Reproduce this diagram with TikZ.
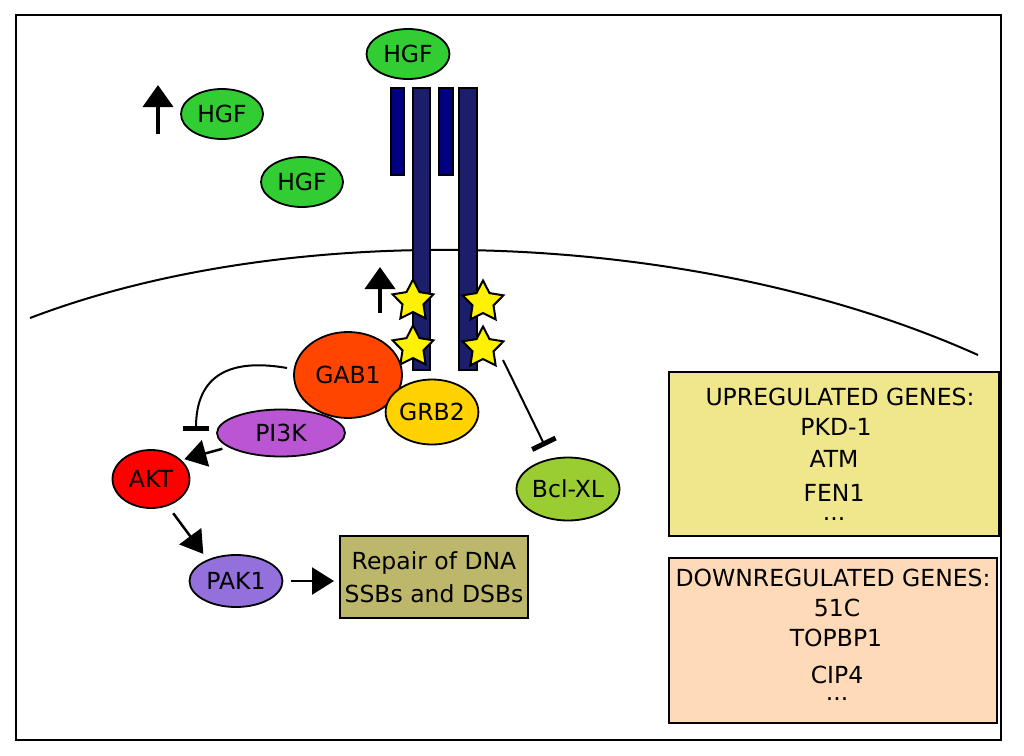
\documentclass[tikz,border=0pt]{standalone}
\usepackage{fontspec}
\setmainfont{DejaVu Sans}
\usetikzlibrary{shapes.geometric,arrows.meta}
\definecolor{hgfgreen}{HTML}{32CD32}
\definecolor{gabcol}{HTML}{FF4500}
\definecolor{grbcol}{HTML}{FFD200}
\definecolor{picol}{HTML}{BA55D3}
\definecolor{aktcol}{HTML}{FF0000}
\definecolor{pakcol}{HTML}{9370DB}
\definecolor{bclcol}{HTML}{9ACD32}
\definecolor{repcol}{HTML}{BDB76B}
\definecolor{upcol}{HTML}{F0E68C}
\definecolor{downcol}{HTML}{FFDAB9}
\definecolor{shortbar}{HTML}{000080}
\definecolor{tallbar}{HTML}{1B1F6B}
\tikzset{
  prot/.style={ellipse, draw=black, line width=1.8pt, inner sep=0pt, font=\fontsize{23.5}{28}\selectfont},
  pstar/.style={star, star points=5, star point ratio=1.95, minimum size=43pt, inner sep=0pt, draw=black, line width=2pt, fill=yellow},
  genebox/.style={draw=black, line width=2pt, inner sep=0pt},
  gtext/.style={anchor=base, font=\fontsize{23.5}{28}\selectfont, inner sep=0pt},
  arr/.style={line width=2.5pt, -{Triangle[length=22pt, width=27pt]}},
  uparr/.style={line width=4pt, -{Triangle[length=22pt, width=30pt]}},
  inh/.style={line width=2pt, -{Bar[width=26pt, line width=5pt]}},
}
\begin{document}
\begin{tikzpicture}[x=1pt, y=-1pt]
\useasboundingbox (0,0) rectangle (1024,755);
\draw[line width=1.5pt] (16,15) rectangle (1001,740);
% membrane
\draw[line width=2pt] (30,318) .. controls (300,215) and (700,230) .. (978,355);
% receptor
\draw[fill=shortbar, draw=black, line width=1.2pt] (391,88) rectangle (404,175);
\draw[fill=shortbar, draw=black, line width=1.2pt] (439,88) rectangle (453,175);
\draw[fill=tallbar, draw=black, line width=1.2pt] (413,88) rectangle (430,370);
\draw[fill=tallbar, draw=black, line width=1.2pt] (459,88) rectangle (477,370);
% stars
\node[pstar] (s1) at (413,301) {};
\node[pstar] (s2) at (413,347) {};
\node[pstar] (s3) at (483,302) {};
\node[pstar] (s4) at (483,348) {};
% HGF
\node[prot, fill=hgfgreen, minimum width=83pt, minimum height=50pt] (hgf1) at (408,54) {HGF};
\node[prot, fill=hgfgreen, minimum width=82pt, minimum height=50pt] (hgf2) at (222,114) {HGF};
\node[prot, fill=hgfgreen, minimum width=82pt, minimum height=50pt] (hgf3) at (302,182) {HGF};
% up arrows
\coordinate (u1a) at (158,134);
\coordinate (u1b) at (158,85);
\draw[uparr] (u1a) -- (u1b);
\coordinate (u2a) at (380,313);
\coordinate (u2b) at (380,267);
\draw[uparr] (u2a) -- (u2b);
% proteins
\node[prot, fill=picol, minimum width=128pt, minimum height=47pt] (pi3k) at (281,433) {PI3K};
\node[prot, fill=gabcol, minimum width=108pt, minimum height=86pt] (gab1) at (348,375) {GAB1};
\node[prot, fill=grbcol, minimum width=84pt, minimum height=65pt] (grb2) at (432,412) {GRB2};
\node[prot, fill=aktcol, minimum width=77pt, minimum height=58pt] (akt) at (151,479) {AKT};
\node[prot, fill=pakcol, minimum width=93pt, minimum height=52pt] (pak1) at (236,581) {PAK1};
\node[prot, fill=bclcol, minimum width=103pt, minimum height=63pt] (bcl) at (568,489) {Bcl-XL};
\node[draw=black, line width=2pt, fill=repcol, minimum width=188pt, minimum height=82pt, inner sep=0pt, align=center, font=\fontsize{23.5}{33}\selectfont] (rep) at (434,577) {Repair of DNA\\SSBs and DSBs};
% connectors
\coordinate (gabout) at (287,368);
\coordinate (aktbar) at (196,431);
\draw[inh] (gabout) .. controls (230,358) and (196,375) .. (aktbar);
\draw[arr, shorten <=6pt, shorten >=3pt] (pi3k.195) -- (akt.32);
\draw[arr, shorten <=9pt, shorten >=7pt] (akt.-58) -- (pak1.143);
\draw[arr, shorten <=8pt, shorten >=5pt] (pak1.east) -- (rep.west |- pak1.east);
\coordinate (s4out) at (503,360);
\coordinate (bclbar) at (545,446);
\draw[inh] (s4out) -- (bclbar);
% gene boxes
\node[genebox, fill=upcol, minimum width=330pt, minimum height=164pt] (upbox) at (834,454) {};
\node[gtext] (up0) at (840,405) {UPREGULATED GENES:};
\node[gtext] (up1) at (836,435) {PKD-1};
\node[gtext] (up2) at (834,467) {ATM};
\node[gtext] (up3) at (834,501) {FEN1};
\node[gtext] (up4) at (834,520) {...};
\node[genebox, fill=downcol, minimum width=328pt, minimum height=165pt] (downbox) at (833,640) {};
\node[gtext] (dn0) at (833,586) {DOWNREGULATED GENES:};
\node[gtext] (dn1) at (837,616) {51C};
\node[gtext] (dn2) at (836,646) {TOPBP1};
\node[gtext] (dn3) at (837,683) {CIP4};
\node[gtext] (dn4) at (837,700) {...};
\end{tikzpicture}
\end{document}
